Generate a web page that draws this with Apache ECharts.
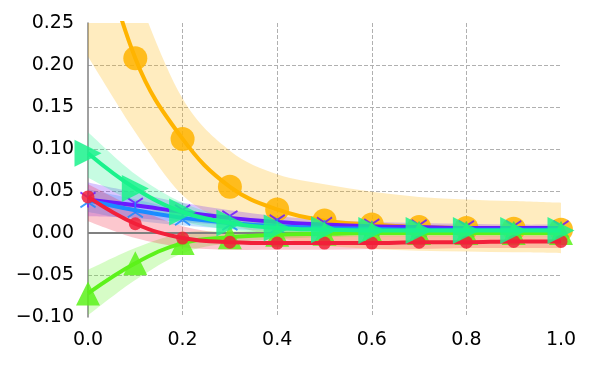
<!DOCTYPE html>
<html>
<head>
<meta charset="utf-8">
<script src="https://cdn.jsdelivr.net/npm/echarts@6/dist/echarts.min.js"></script>
<style>
  html, body { margin: 0; padding: 0; background: #fff; }
  #chart { width: 600px; height: 375px; }
</style>
</head>
<body>
<div id="chart"></div>
<script>
// x positions shared by all series
var xs = [0, 0.1, 0.2, 0.3, 0.4, 0.5, 0.6, 0.7, 0.8, 0.9, 1.0];
var xTicks = ['0.0', '0.2', '0.4', '0.6', '0.8', '1.0'];
var yTicks = ['\u22120.10', '\u22120.05', '0.00', '0.05', '0.10', '0.15', '0.20', '0.25'];

// series means
var orangeY = [0.40, 0.208, 0.112, 0.055, 0.028, 0.015, 0.010, 0.007, 0.006, 0.005, 0.004];
var purpleY = [0.040, 0.033, 0.025, 0.018, 0.013, 0.010, 0.008, 0.007, 0.006, 0.006, 0.006];
var blueY = [0.039, 0.027, 0.018, 0.012, 0.008, 0.006, 0.005, 0.004, 0.004, 0.004, 0.004];
var limeY = [-0.072, -0.036, -0.012, -0.005, -0.002, -0.001, 0.000, 0.000, 0.000, 0.000, 0.000];
var redY = [0.043, 0.011, -0.006, -0.011, -0.012, -0.012, -0.012, -0.011, -0.011, -0.010, -0.010];
var tealY = [0.095, 0.053, 0.025, 0.012, 0.006, 0.004, 0.003, 0.003, 0.003, 0.003, 0.003];

// confidence bands
var orangeLo = [0.21, 0.120, 0.045, 0.012, -0.005, -0.015, -0.019, -0.021, -0.022, -0.023, -0.024];
var orangeHi = [0.45, 0.290, 0.160, 0.098, 0.070, 0.058, 0.049, 0.043, 0.040, 0.038, 0.036];
var purpleLo = [0.020, 0.018, 0.013, 0.009, 0.006, 0.004, 0.003, 0.003, 0.002, 0.002, 0.002];
var purpleHi = [0.060, 0.048, 0.036, 0.027, 0.020, 0.016, 0.013, 0.012, 0.011, 0.010, 0.010];
var blueLo = [0.025, 0.015, 0.009, 0.005, 0.002, 0.001, 0.001, 0.001, 0.001, 0.001, 0.001];
var blueHi = [0.052, 0.040, 0.028, 0.020, 0.014, 0.011, 0.009, 0.008, 0.007, 0.007, 0.007];
var limeLo = [-0.098, -0.056, -0.024, -0.012, -0.007, -0.005, -0.004, -0.004, -0.004, -0.004, -0.004];
var limeHi = [-0.044, -0.018, 0.000, 0.002, 0.003, 0.004, 0.004, 0.004, 0.004, 0.004, 0.004];
var redLo = [0.014, -0.006, -0.017, -0.020, -0.020, -0.020, -0.019, -0.019, -0.018, -0.018, -0.018];
var redHi = [0.058, 0.030, 0.008, -0.001, -0.003, -0.003, -0.003, -0.003, -0.003, -0.003, -0.003];
var tealLo = [0.066, 0.036, 0.014, 0.004, 0.000, -0.001, -0.001, -0.001, -0.001, -0.001, -0.001];
var tealHi = [0.120, 0.070, 0.036, 0.019, 0.012, 0.009, 0.008, 0.007, 0.007, 0.007, 0.007];

// thin line markers (like matplotlib tri markers)
var triDown = 'path://M9,10L11,10L11,20L9,20Z M10.5,9.13L1.8,4.13L0.8,5.87L9.5,10.87Z M9.5,9.13L18.2,4.13L19.2,5.87L10.5,10.87Z';
var triUp = 'path://M9,0L11,0L11,10L9,10Z M10.5,10.87L1.8,15.87L0.8,14.13L9.5,9.13Z M9.5,10.87L18.2,15.87L19.2,14.13L10.5,9.13Z';

var bands = [
    { lo: orangeLo, hi: orangeHi, color: '#ffb400' },
    { lo: purpleLo, hi: purpleHi, color: '#6a1aff' },
    { lo: blueLo, hi: blueHi, color: '#1a8cff' },
    { lo: limeLo, hi: limeHi, color: '#5cf21a' },
    { lo: redLo, hi: redHi, color: '#f2203a' },
    { lo: tealLo, hi: tealHi, color: '#1af28c' }
];

function pairs(ys) {
    return xs.map(function (x, i) { return [x, ys[i]]; });
}

// catmull-rom curve through pixel points, as svg path commands
function curve(pts) {
    var d = '';
    var n = pts.length;
    for (var i = 0; i < n - 1; i++) {
        var p0 = pts[Math.max(i - 1, 0)], p1 = pts[i], p2 = pts[i + 1], p3 = pts[Math.min(i + 2, n - 1)];
        var c1x = p1[0] + (p2[0] - p0[0]) / 6, c1y = p1[1] + (p2[1] - p0[1]) / 6;
        var c2x = p2[0] - (p3[0] - p1[0]) / 6, c2y = p2[1] - (p3[1] - p1[1]) / 6;
        d += 'C' + c1x + ',' + c1y + ',' + c2x + ',' + c2y + ',' + p2[0] + ',' + p2[1];
    }
    return d;
}

function line(name, ys, color, symbol, size, z) {
    return {
        name: name,
        type: 'line',
        smooth: 0.4,
        data: pairs(ys),
        symbol: symbol,
        symbolSize: size,
        showSymbol: true,
        lineStyle: { color: color, width: 4 },
        itemStyle: { color: color, opacity: 0.85, borderWidth: 0 },
        z: z
    };
}

var series = [];

// shaded bands, one filled path per band through the axis scales
series.push({
    name: 'bands',
    type: 'custom',
    clip: true,
    silent: true,
    data: bands.map(function (b, i) { return [xs[0], b.lo[0], i]; }),
    encode: { x: 0, y: 1 },
    renderItem: function (params, api) {
        var b = bands[params.dataIndex];
        var up = [], low = [];
        for (var i = 0; i < xs.length; i++) up.push(api.coord([xs[i], b.hi[i]]));
        for (var j = xs.length - 1; j >= 0; j--) low.push(api.coord([xs[j], b.lo[j]]));
        var d = 'M' + up[0][0] + ',' + up[0][1] + curve(up) +
            'L' + low[0][0] + ',' + low[0][1] + curve(low) + 'Z';
        return {
            type: 'path',
            shape: { pathData: d },
            style: { fill: b.color, opacity: 0.25 }
        };
    },
    z: 1
});

series.push({
    name: 'zero',
    type: 'line',
    data: [],
    markLine: {
        silent: true,
        symbol: 'none',
        label: { show: false },
        lineStyle: { color: '#808080', type: 'solid', width: 2 },
        data: [{ yAxis: 0 }]
    },
    z: 2
});

series.push(line('orange', orangeY, '#ffb400', 'circle', 24, 3));
series.push(line('purple', purpleY, '#6a1aff', triDown, 16, 4));
series.push(line('blue', blueY, '#1a8cff', triUp, 16, 5));
series.push(line('lime', limeY, '#5cf21a', 'triangle', 24, 6));
series.push(line('red', redY, '#f2203a', 'circle', 13, 7));
var teal = line('teal', tealY, '#1af28c', 'triangle', 27, 8);
teal.symbolRotate = -90;
series.push(teal);

var myChart = echarts.init(document.getElementById('chart'));
var option = {
    animation: false,
    grid: { left: 88, right: 39, top: 23, bottom: 58 },
    xAxis: {
        type: 'value',
        min: 0,
        max: 1,
        interval: 0.2,
        axisLine: { show: false },
        axisTick: { show: false },
        axisLabel: {
            margin: 14,
            fontSize: 19,
            fontFamily: 'DejaVu Sans',
            color: '#000',
            formatter: function (v) { return xTicks[Math.round(v / 0.2)]; }
        },
        splitLine: {
            show: true,
            showMinLine: false,
            showMaxLine: false,
            lineStyle: { color: '#b0b0b0', type: 'dashed', width: 1 }
        }
    },
    yAxis: {
        type: 'value',
        min: -0.1,
        max: 0.25,
        interval: 0.05,
        axisLine: { show: true, onZero: false, lineStyle: { color: '#808080', width: 1.5 } },
        axisTick: { show: false },
        axisLabel: {
            margin: 14,
            fontSize: 19,
            fontFamily: 'DejaVu Sans',
            color: '#000',
            formatter: function (v) { return yTicks[Math.round((v + 0.1) / 0.05)]; }
        },
        splitLine: {
            show: true,
            showMinLine: false,
            showMaxLine: false,
            lineStyle: { color: '#b0b0b0', type: 'dashed', width: 1 }
        }
    },
    series: series
};

myChart.setOption(option);
</script>
</body>
</html>
